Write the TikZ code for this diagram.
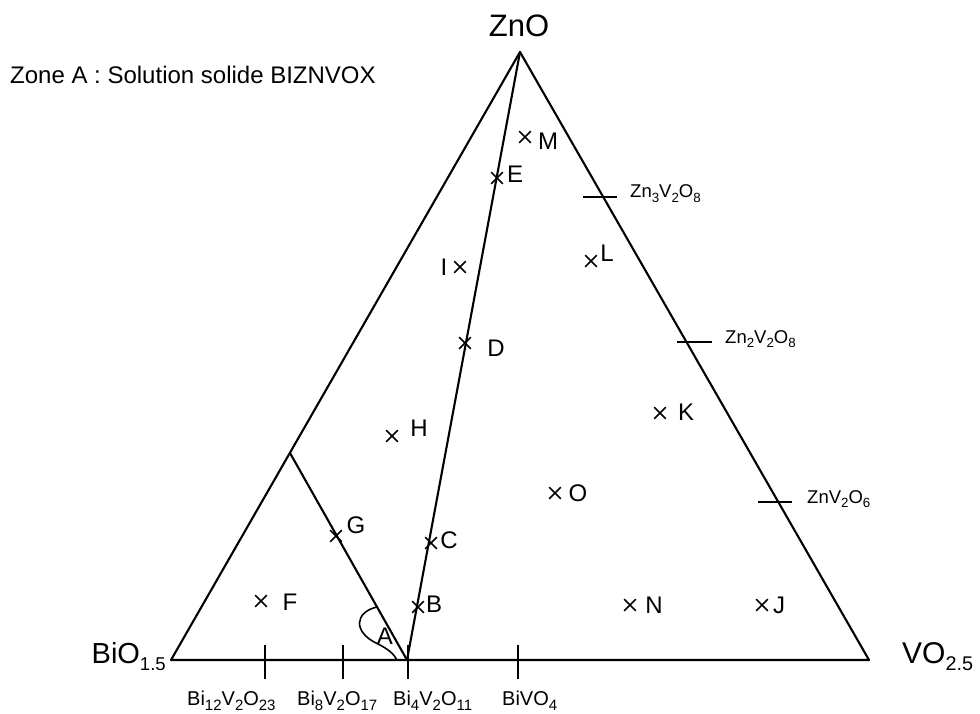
\documentclass[tikz,border=0pt]{standalone}
\usepackage{fontspec}
\setmainfont{Liberation Sans}
\usetikzlibrary{shapes.misc}
\newcommand\sbx[2][0.62]{\raisebox{-0.25em}{\scalebox{#1}{#2}}}
\tikzset{
  edge/.style={line width=2.1pt, line cap=round, line join=round},
  tickmark/.style={line width=1.8pt},
  pt/.style={cross out, draw, line width=1.7pt, minimum size=10pt, inner sep=0pt},
  lab/.style={font=\fontsize{24}{26}\selectfont, inner sep=0pt},
  vlab/.style={font=\fontsize{29}{34}\selectfont, inner sep=0pt},
  blab/.style={font=\fontsize{20}{22}\selectfont, inner sep=0pt, anchor=base west},
  rlab/.style={font=\fontsize{18.5}{20}\selectfont, inner sep=0pt, anchor=base west}
}
\begin{document}
\begin{tikzpicture}[x=1pt,y=-1pt]
\useasboundingbox (0,0) rectangle (980,714);
% vertices
\coordinate (Zn) at (520,52);
\coordinate (Bi) at (171,660);
\coordinate (V) at (869,660);
\coordinate (B4) at (407,660);
\coordinate (Zl) at (290,453);
% triangle
\draw[edge] (Bi) -- (Zn) -- (V) -- (Bi);
\draw[edge] (Zn) -- (B4);
\draw[edge] (Zl) -- (B4);
% zone A curve
\coordinate (Aa) at (377,607);
\coordinate (Ab) at (397,660);
\draw[line width=1.6pt] (Aa) .. controls (355,612) and (352,632) .. (378,644)
  .. controls (388,649) and (394,654) .. (Ab);
\node[lab] (lA) at (385,636) {A};
% bottom ticks
\foreach \x/\n in {265/t1,343/t2,408/t3,518/t4}{
  \coordinate (\n a) at (\x,645);
  \coordinate (\n b) at (\x,679);
  \draw[tickmark] (\n a) -- (\n b);
}
% right ticks
\coordinate (r1a) at (583,197); \coordinate (r1b) at (617,197);
\coordinate (r2a) at (677,342); \coordinate (r2b) at (712,342);
\coordinate (r3a) at (758,502); \coordinate (r3b) at (792,502);
\draw[tickmark] (r1a) -- (r1b);
\draw[tickmark] (r2a) -- (r2b);
\draw[tickmark] (r3a) -- (r3b);
% vertex labels
\node[vlab, font=\fontsize{31}{34}\selectfont] (lZn) at (519,26) {ZnO};
\node[vlab, anchor=base east] (lBi) at (166,663) {BiO\sbx[0.64]{1.5}};
\node[vlab, font=\fontsize{30}{34}\selectfont, anchor=base west] (lV) at (902,663) {VO\sbx[0.66]{2.5}};
% bottom labels
\node[blab] (b1) at (187,705) {Bi\sbx[0.75]{12}V\sbx[0.75]{2}O\sbx[0.75]{23}};
\node[blab] (b2) at (297,705) {Bi\sbx[0.75]{8}V\sbx[0.75]{2}O\sbx[0.75]{17}};
\node[blab] (b3) at (393,705) {Bi\sbx[0.75]{4}V\sbx[0.75]{2}O\sbx[0.75]{11}};
\node[blab] (b4) at (502,705) {BiVO\sbx[0.75]{4}};
% right labels
\node[rlab] (z1) at (630,198) {Zn\sbx[0.72]{3}V\sbx[0.72]{2}O\sbx[0.72]{8}};
\node[rlab] (z2) at (725,343) {Zn\sbx[0.72]{2}V\sbx[0.72]{2}O\sbx[0.72]{8}};
\node[rlab] (z3) at (807,503) {ZnV\sbx[0.72]{2}O\sbx[0.72]{6}};
% zone text
\node[font=\fontsize{24}{27}\selectfont, inner sep=0pt, anchor=base west] (zone) at (10,84) {Zone A : Solution solide BIZNVOX};
% points
\node[pt] (pM) at (525,137) {}; \node[lab] (lM) at (548,141) {M};
\node[pt] (pE) at (497,178) {}; \node[lab] (lE) at (515,174) {E};
\node[pt] (pI) at (460,267) {}; \node[lab] (lI) at (444,267) {I};
\node[pt] (pL) at (591,261) {}; \node[lab] (lL) at (607,253) {L};
\node[pt] (pD) at (465,343) {}; \node[lab] (lD) at (496,348) {D};
\node[pt] (pK) at (660,413) {}; \node[lab] (lK) at (686,412) {K};
\node[pt] (pH) at (392,436) {}; \node[lab] (lH) at (419,428) {H};
\node[pt] (pO) at (555,493) {}; \node[lab] (lO) at (578,493) {O};
\node[pt] (pG) at (336,536) {}; \node[lab] (lG) at (356,525) {G};
\node[pt] (pC) at (431,543) {}; \node[lab] (lC) at (449,540) {C};
\node[pt] (pF) at (261,601) {}; \node[lab] (lF) at (290,602) {F};
\node[pt] (pB) at (418,607) {}; \node[lab] (lB) at (434,604) {B};
\node[pt] (pN) at (630,605) {}; \node[lab] (lN) at (654,605) {N};
\node[pt] (pJ) at (762,605) {}; \node[lab] (lJ) at (779,605) {J};
\end{tikzpicture}
\end{document}
